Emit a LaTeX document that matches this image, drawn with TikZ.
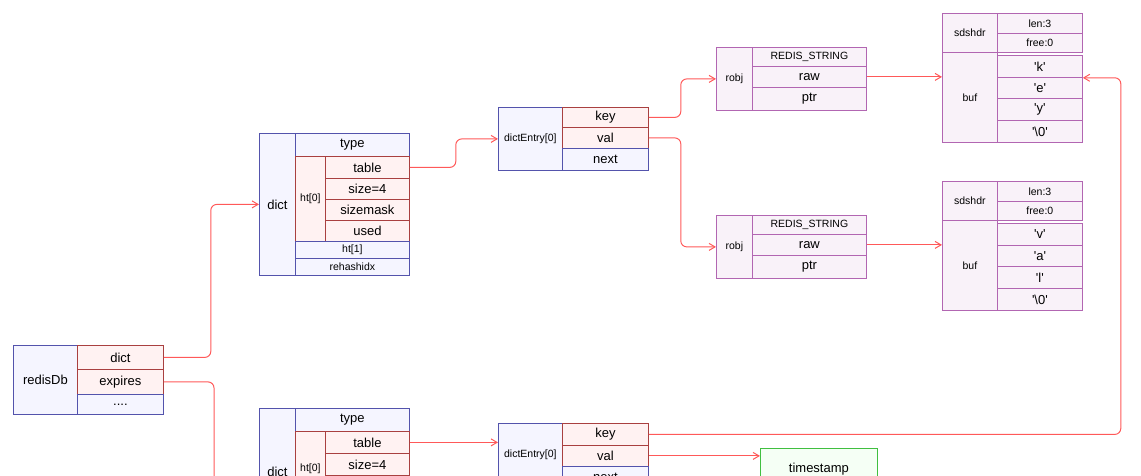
\documentclass[tikz,border=0pt]{standalone}
\usepackage{fontspec}
\setmainfont{Liberation Sans}
\usetikzlibrary{arrows.meta}
\newcommand\cell[7]{\node[#6,anchor=north west,inner sep=0pt,minimum width={(#4-#2)*1pt},minimum height={(#5-#3)*1pt}] (#1) at (#2,#3) {#7};}
\newcommand\q[1]{\textquotesingle#1\textquotesingle}
\tikzset{
 bl/.style={draw=blue!35!gray,fill=blue!4,line width=0.8pt},
 rd/.style={draw=red!55!black!75,fill=red!5,line width=0.8pt},
 pu/.style={draw=violet!60,fill=violet!5,line width=0.8pt},
 gr/.style={draw=green!50!gray,fill=green!4,line width=0.8pt},
 big/.style={font=\fontsize{13}{15}\selectfont},
 sm/.style={font=\fontsize{10.5}{12}\selectfont},
 arr/.style={draw=red!65,line width=1pt,rounded corners=6pt,-{Straight Barb[length=6pt,width=7pt]}}
}
\begin{document}
\begin{tikzpicture}[x=1pt,y=-1pt]
\useasboundingbox (0,0) rectangle (1141,476);
\clip (0,0) rectangle (1141,476);
% redisDb
\cell{rdb}{13}{345}{77}{414}{bl,big}{redisDb}
\cell{rdict}{77}{345}{163}{369}{rd,big}{dict}
\cell{rexp}{77}{369}{163}{394}{rd,big}{expires}
\cell{rdots}{77}{394}{163}{414}{bl,big}{....}
% dict 1
\cell{d1}{259}{133}{295}{275}{bl,big}{dict}
\cell{d1type}{295}{133}{409}{156}{bl,big}{type}
\cell{d1ht}{295}{156}{325}{241}{rd,sm}{ht[0]}
\cell{d1table}{325}{156}{409}{178}{rd,big}{table}
\cell{d1size}{325}{178}{409}{199}{rd,big}{size=4}
\cell{d1mask}{325}{199}{409}{220}{rd,big}{sizemask}
\cell{d1used}{325}{220}{409}{241}{rd,big}{used}
\cell{d1ht1}{295}{241}{409}{258}{bl,sm}{ht[1]}
\cell{d1re}{295}{258}{409}{275}{bl,sm}{rehashidx}
% dictEntry 1
\cell{e1}{498}{107}{562}{170}{bl,sm}{dictEntry[0]}
\cell{e1key}{562}{107}{648}{127}{rd,big}{key}
\cell{e1val}{562}{127}{648}{148}{rd,big}{val}
\cell{e1next}{562}{148}{648}{170}{bl,big}{next}
% robj 1
\cell{o1}{716}{47}{752}{110}{pu,sm}{robj}
\cell{o1t}{752}{47}{866}{66}{pu,sm}{REDIS\_STRING}
\cell{o1raw}{752}{66}{866}{87}{pu,big}{raw}
\cell{o1ptr}{752}{87}{866}{110}{pu,big}{ptr}
% sds 1
\cell{s1h}{942}{13}{997}{52}{pu,sm}{sdshdr}
\cell{s1len}{997}{13}{1082}{33}{pu,sm}{len:3}
\cell{s1free}{997}{33}{1082}{52}{pu,sm}{free:0}
\cell{s1}{942}{52}{997}{142}{pu,sm}{buf}
\cell{s1a}{997}{55}{1082}{77}{pu,big}{\q{k}}
\cell{s1b}{997}{77}{1082}{98}{pu,big}{\q{e}}
\cell{s1c}{997}{98}{1082}{120}{pu,big}{\q{y}}
\cell{s1d}{997}{120}{1082}{142}{pu,big}{\q{\textbackslash0}}
% robj 2
\cell{o2}{716}{215}{752}{278}{pu,sm}{robj}
\cell{o2t}{752}{215}{866}{234}{pu,sm}{REDIS\_STRING}
\cell{o2raw}{752}{234}{866}{255}{pu,big}{raw}
\cell{o2ptr}{752}{255}{866}{278}{pu,big}{ptr}
% sds 2
\cell{s2h}{942}{181}{997}{220}{pu,sm}{sdshdr}
\cell{s2len}{997}{181}{1082}{201}{pu,sm}{len:3}
\cell{s2free}{997}{201}{1082}{220}{pu,sm}{free:0}
\cell{s2}{942}{220}{997}{310}{pu,sm}{buf}
\cell{s2a}{997}{223}{1082}{245}{pu,big}{\q{v}}
\cell{s2b}{997}{245}{1082}{266}{pu,big}{\q{a}}
\cell{s2c}{997}{266}{1082}{288}{pu,big}{\q{l}}
\cell{s2d}{997}{288}{1082}{310}{pu,big}{\q{\textbackslash0}}
% dict 2
\cell{d2}{259}{408}{295}{535}{bl,big}{dict}
\cell{d2type}{295}{408}{409}{431}{bl,big}{type}
\cell{d2ht}{295}{431}{325}{505}{rd,sm}{ht[0]}
\cell{d2table}{325}{431}{409}{453}{rd,big}{table}
\cell{d2size}{325}{453}{409}{475}{rd,big}{size=4}
\cell{d2mask}{325}{475}{409}{497}{rd,big}{sizemask}
\cell{d2ht1}{295}{505}{409}{520}{bl,sm}{ht[1]}
\cell{d2re}{295}{520}{409}{535}{bl,sm}{rehashidx}
% dictEntry 2
\cell{e2}{498}{423}{562}{486}{bl,sm}{dictEntry[0]}
\cell{e2key}{562}{423}{648}{445}{rd,big}{key}
\cell{e2val}{562}{445}{648}{466}{rd,big}{val}
\cell{e2next}{562}{466}{648}{488}{bl,big}{next}
\cell{ts}{760}{448}{877}{490}{gr,big}{timestamp}
% connectors
\draw[arr] (rdict.east) -- ++(47,0) |- (d1.west);
\coordinate (exend) at (214,490);
\draw[draw=red!65,line width=1pt,rounded corners=6pt] (rexp.east) -| (exend);
\draw[arr] (d1table.east) -- ++(46,0) |- (e1.west);
\draw[arr] (e1key.east) -- ++(32,0) |- (o1.west);
\draw[arr] (e1val.east) -- ++(32,0) |- (o2.west);
\draw[arr] (o1raw.east) -- (s1.west |- o1raw.east);
\draw[arr] (o2raw.east) -- (s2.west |- o2raw.east);
\draw[arr] (d2table.east) -- (e2.west |- d2table.east);
\draw[arr] (e2key.east) -- ++(472,0) |- (s1a.south east);
\draw[arr] (e2val.east) -- (ts.west |- e2val.east);
\end{tikzpicture}
\end{document}
